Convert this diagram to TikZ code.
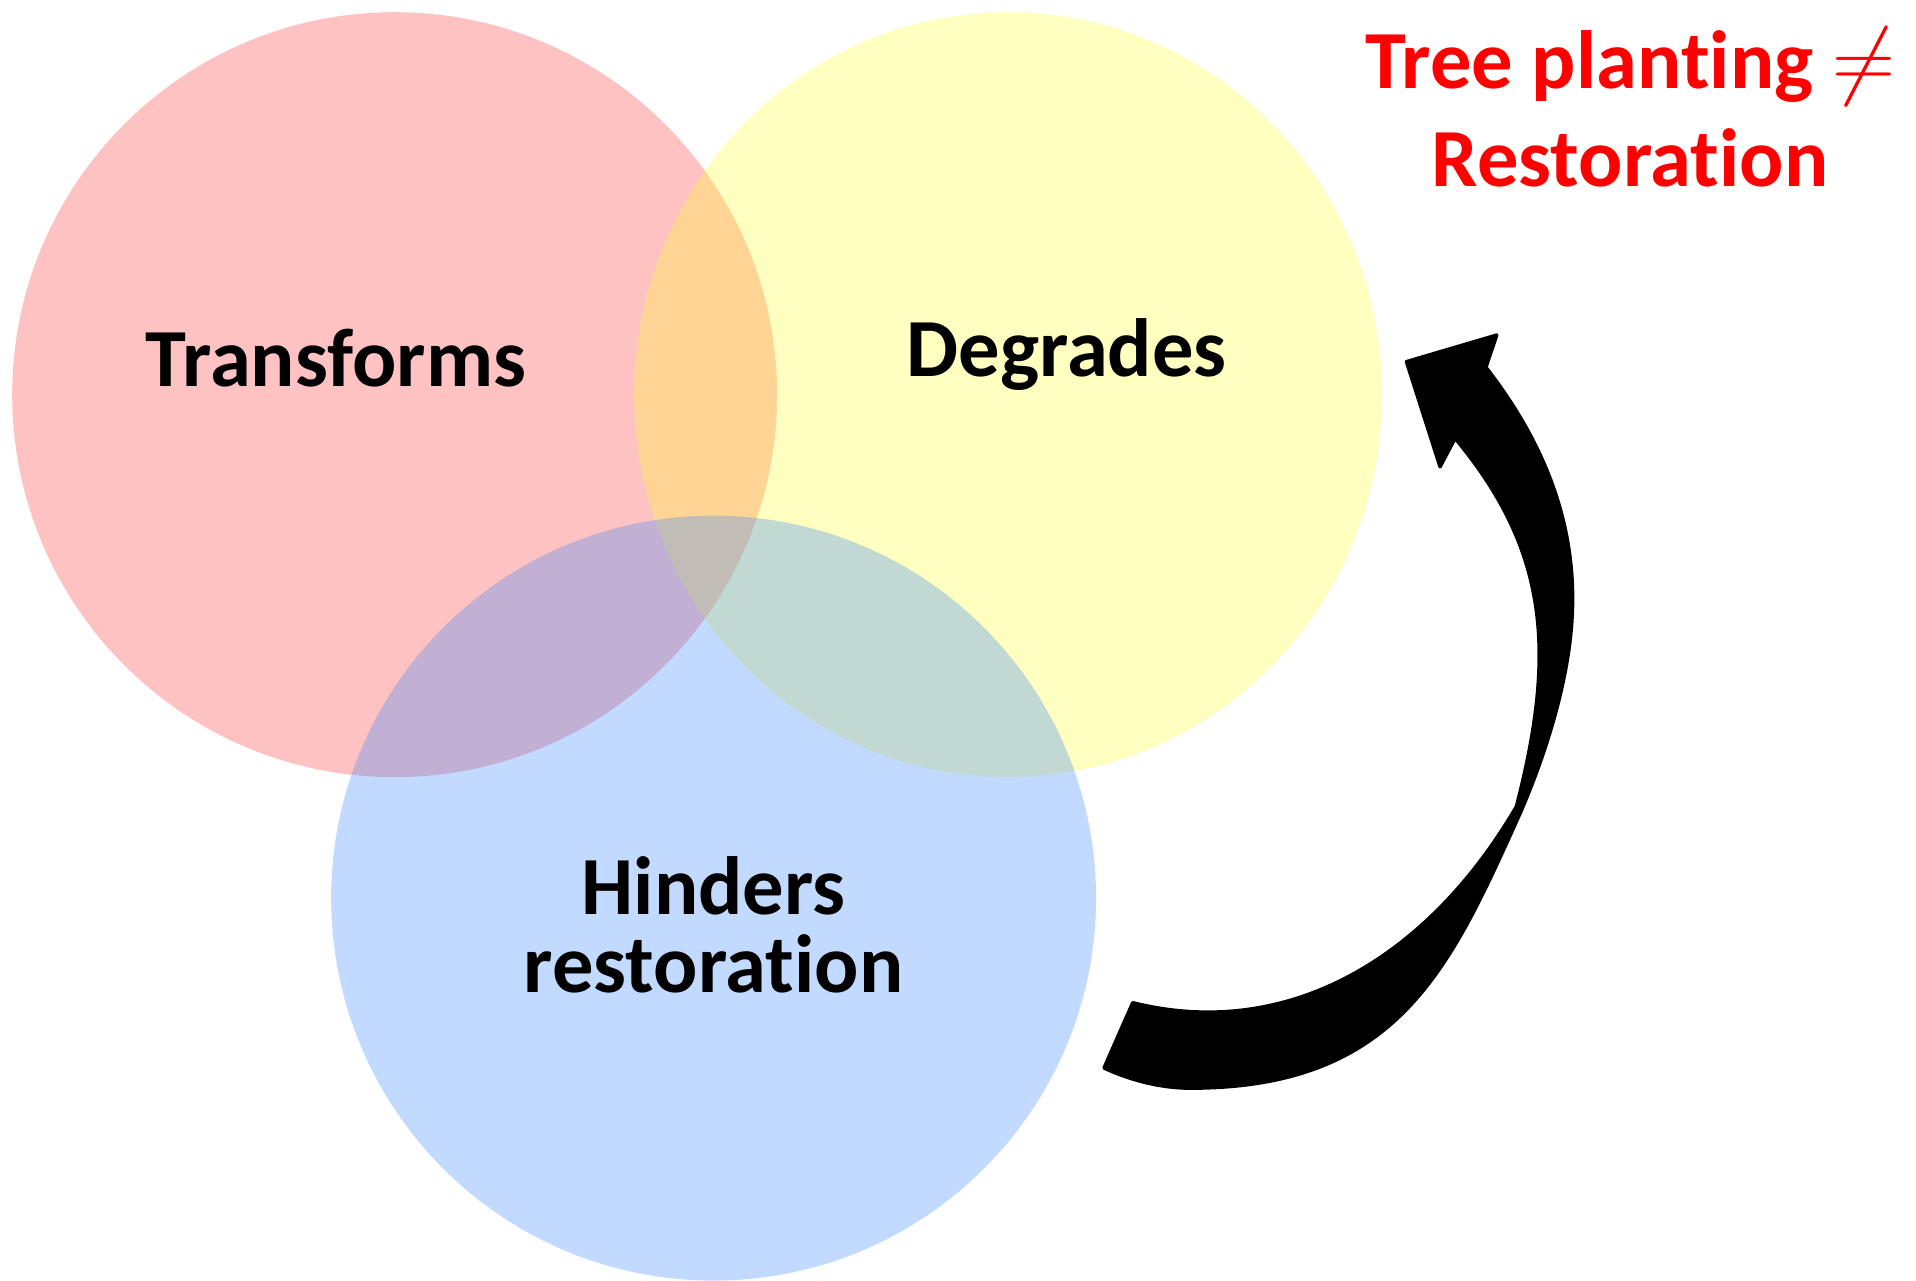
\documentclass[tikz,border=0pt]{standalone}
\usepackage{fontspec}
\setmainfont{Carlito}[Ligatures=NoCommon]
\usepackage{tikz}

\definecolor{vennred}{RGB}{255,52,52}
\definecolor{vennyellow}{RGB}{255,255,45}
\definecolor{vennblue}{RGB}{52,132,255}

\tikzset{
  venn/.style={fill opacity=0.3},
  lbl/.style={font=\fontsize{23.5}{22}\selectfont\bfseries, inner sep=0pt},
  claim/.style={font=\fontsize{23.5}{28}\selectfont\bfseries, text=red, inner sep=0pt},
}

\begin{document}
\begin{tikzpicture}[x=0.12219mm,y=-0.12219mm]
  \path[use as bounding box] (0,0) rectangle (1568,1048);
  % the three sets
  \fill[vennred,venn] (323,323) circle [radius=313];
  \fill[vennyellow,venn] (825,323) circle [x radius=306,y radius=313];
  \fill[vennblue,venn] (584,735) circle [radius=313];

  \node[lbl,anchor=base] (transforms) at (275,316) {Transforms};
  \node[lbl,anchor=base] (degrades) at (873,308) {Degrades};
  % base of a two-line node = last line
  \node[lbl,anchor=base,align=center] (hinders) at (584,812) {Hinders\\restoration};

  \node[claim,anchor=base,align=center] (claim) at (1334,153) {Tree planting $\neq$\\Restoration};

  % curved arrow back to the yellow set
  \filldraw[line width=1pt,line join=round] (903.5,874) -- (927,820.6)
    .. controls (1057,853) and (1171,780.4) .. (1241,660)
    .. controls (1273.5,534) and (1267.6,451) .. (1190.8,358.7)
    -- (1178.5,382) -- (1151,296) -- (1224.9,274.2) -- (1216,300.6)
    .. controls (1270,370) and (1292,440) .. (1286,513)
    .. controls (1282,563) and (1264,619.6) .. (1244,665.6)
    .. controls (1186.6,793) and (1144,890.5) .. (974,890.5)
    .. controls (950,890.5) and (925,884) .. (903.5,874) -- cycle;
\end{tikzpicture}
\end{document}
